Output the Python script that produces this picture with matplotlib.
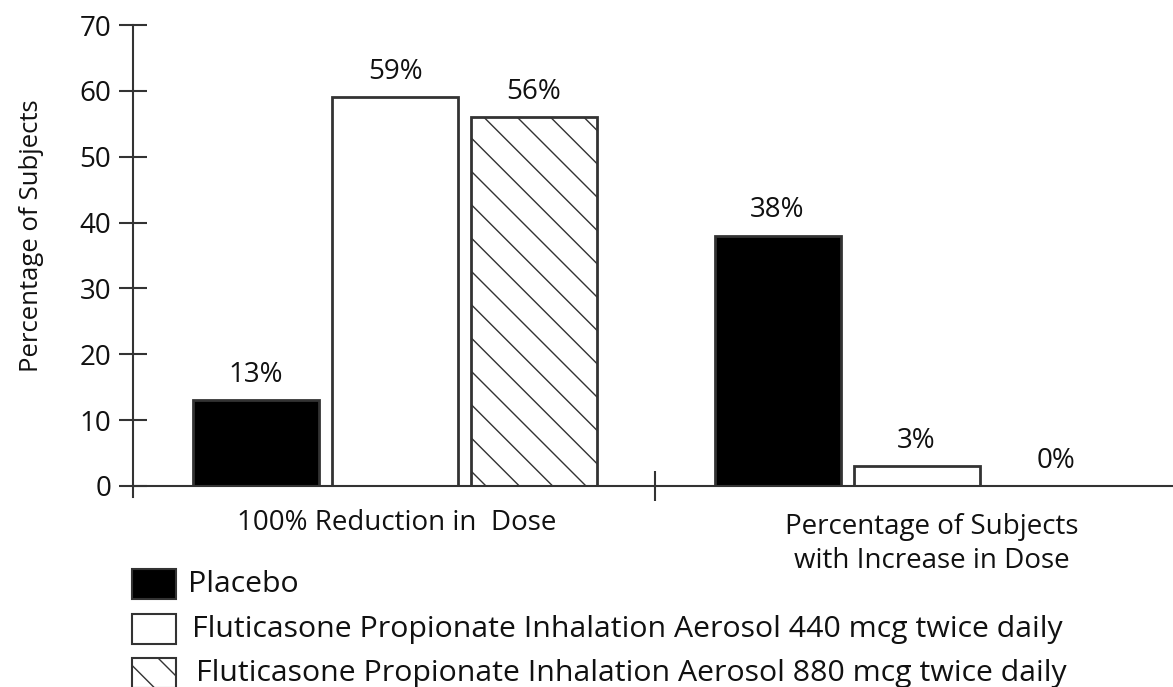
import matplotlib
matplotlib.use("Agg")
import matplotlib.pyplot as plt
from matplotlib.patches import Rectangle
import numpy as np

plt.rcParams['font.family'] = ['Open Sans', 'DejaVu Sans']
plt.rcParams['hatch.linewidth'] = 1.0

categories = ["100% Reduction in  Dose", "Percentage of Subjects\nwith Increase in Dose"]
series = ["Placebo",
          "Fluticasone Propionate Inhalation Aerosol 440 mcg twice daily",
          "Fluticasone Propionate Inhalation Aerosol 880 mcg twice daily"]
placebo = [13, 38]
flu440 = [59, 3]
flu880 = [56, 0]
value_labels = [["13%", "38%"], ["59%", "3%"], ["56%", "0%"]]
yticks = [0, 10, 20, 30, 40, 50, 60, 70]

TXT = '#111111'
W, H = 1173, 687
fig = plt.figure(figsize=(W/100, H/100), dpi=100)
ax = fig.add_axes([133/W, 1-486/H, 1-133/W, 461/H])
ax.set_ylim(0, 70)
ax.set_xlim(-0.5024, 1.4918)

facecolors = ['black', 'white', 'white']
hatches = [None, None, '\\']
offset = 0.2665
width = 0.2416
x = np.arange(len(categories))
for i, vals in enumerate([placebo, flu440, flu880]):
    pos = x + (i - 1) * offset
    ax.bar(pos, vals, width=width, color=facecolors[i], edgecolor='#333333',
           linewidth=2, hatch=hatches[i], zorder=2)
    for p, v, lab in zip(pos, vals, value_labels[i]):
        ax.text(p, v + 2.8, lab, ha='center', va='baseline', fontsize=20, color=TXT)

for s in ['top', 'right']:
    ax.spines[s].set_visible(False)
for s in ['left', 'bottom']:
    ax.spines[s].set_linewidth(1.5)
    ax.spines[s].set_color('#333333')
ax.set_yticks(yticks)
ax.set_yticklabels([str(t) for t in yticks], fontsize=20, color=TXT)
ax.tick_params(axis='y', direction='inout', length=19.5, width=1.5, color='#333333', pad=6)
ax.set_xticks([0.4986])
ax.set_xticklabels([''])
ax.tick_params(axis='x', direction='inout', length=21, width=1.5, color='#333333')
# small tick below origin
ax.plot([-0.5024, -0.5024], [-1.6, 0], color='#333333', lw=1.5, clip_on=False)

fig.text(32/W, 1-236/H, "Percentage of Subjects", rotation=90, ha='center', va='center',
         fontsize=18.5, color=TXT)

# category labels
fig.text(397/W, 1-523/H, categories[0], ha='center', va='center', fontsize=20, color=TXT)
fig.text(932/W, 1-544/H, categories[1], ha='center', va='center', fontsize=20,
         color=TXT, linespacing=1.3)

# legend drawn manually
leg_y = [584, 629, 673]
leg_text_x = [188, 192, 196]
for i, (lab, yc) in enumerate(zip(series, leg_y)):
    rect = Rectangle((132/W, 1-(yc+15)/H), 44/W, 30/H, transform=fig.transFigure,
                     facecolor=facecolors[i], edgecolor='#333333', linewidth=1.5,
                     hatch=hatches[i])
    fig.add_artist(rect)
    fig.text(leg_text_x[i]/W, 1-yc/H, lab, ha='left', va='center',
             fontsize=21.8, color=TXT)

fig.savefig("out.png", dpi=100)
